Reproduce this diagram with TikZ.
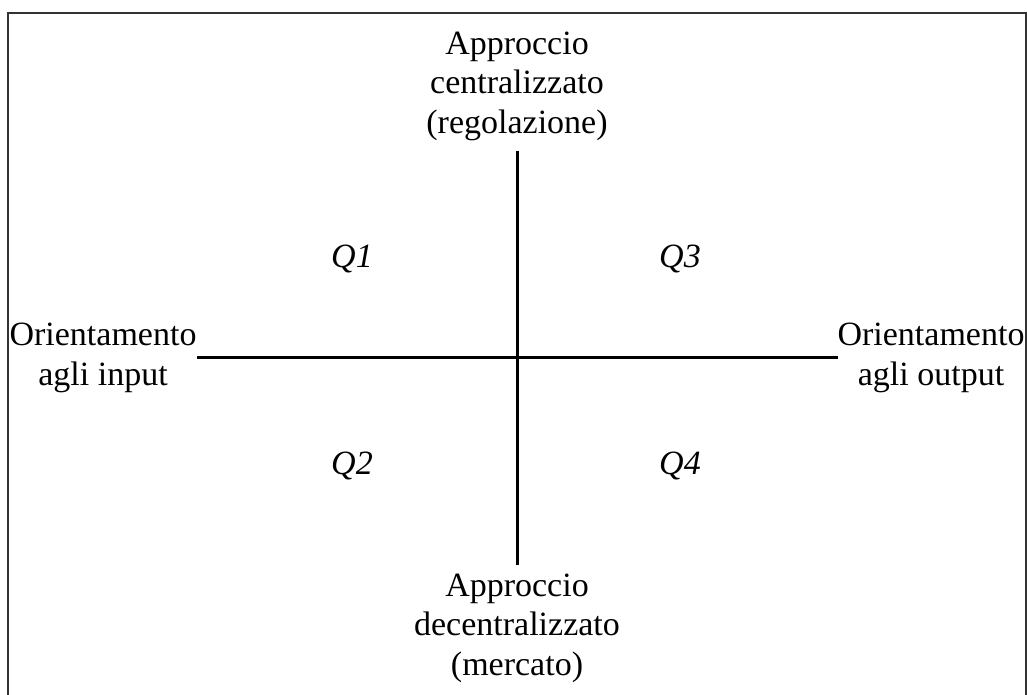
\documentclass[tikz,border=0pt]{standalone}
\usepackage{fontspec}
\setmainfont{Liberation Serif}
\begin{document}
\begin{tikzpicture}[x=1pt,y=-1pt,
  lbl/.style={align=center,inner sep=0pt,font=\fontsize{34}{39.5}\selectfont},
  qlbl/.style={inner sep=0pt,font=\fontsize{34}{39.5}\selectfont\itshape},
  axis/.style={line width=3pt},
  frame/.style={draw=black!80,line width=2pt}]
\useasboundingbox (0,0) rectangle (1027,695);
\draw[frame] (8,13) rectangle (1026,710);
\coordinate (top) at (517,151);
\coordinate (bot) at (517,565);
\coordinate (left) at (197,357);
\coordinate (right) at (838,357);
\draw[axis] (top) -- (bot);
\draw[axis] (left) -- (right);
\node[lbl] (ntop) at (517,86) {Approccio\\centralizzato\\(regolazione)};
\node[lbl] (nbot) at (517,628) {Approccio\\decentralizzato\\(mercato)};
\node[lbl] (nleft) at (103,358) {Orientamento\\agli input};
\node[lbl] (nright) at (931,358) {Orientamento\\agli output};
\node[qlbl] (q1) at (352,259) {Q1};
\node[qlbl] (q3) at (680,259) {Q3};
\node[qlbl] (q2) at (352,466) {Q2};
\node[qlbl] (q4) at (680,466) {Q4};
\end{tikzpicture}
\end{document}
